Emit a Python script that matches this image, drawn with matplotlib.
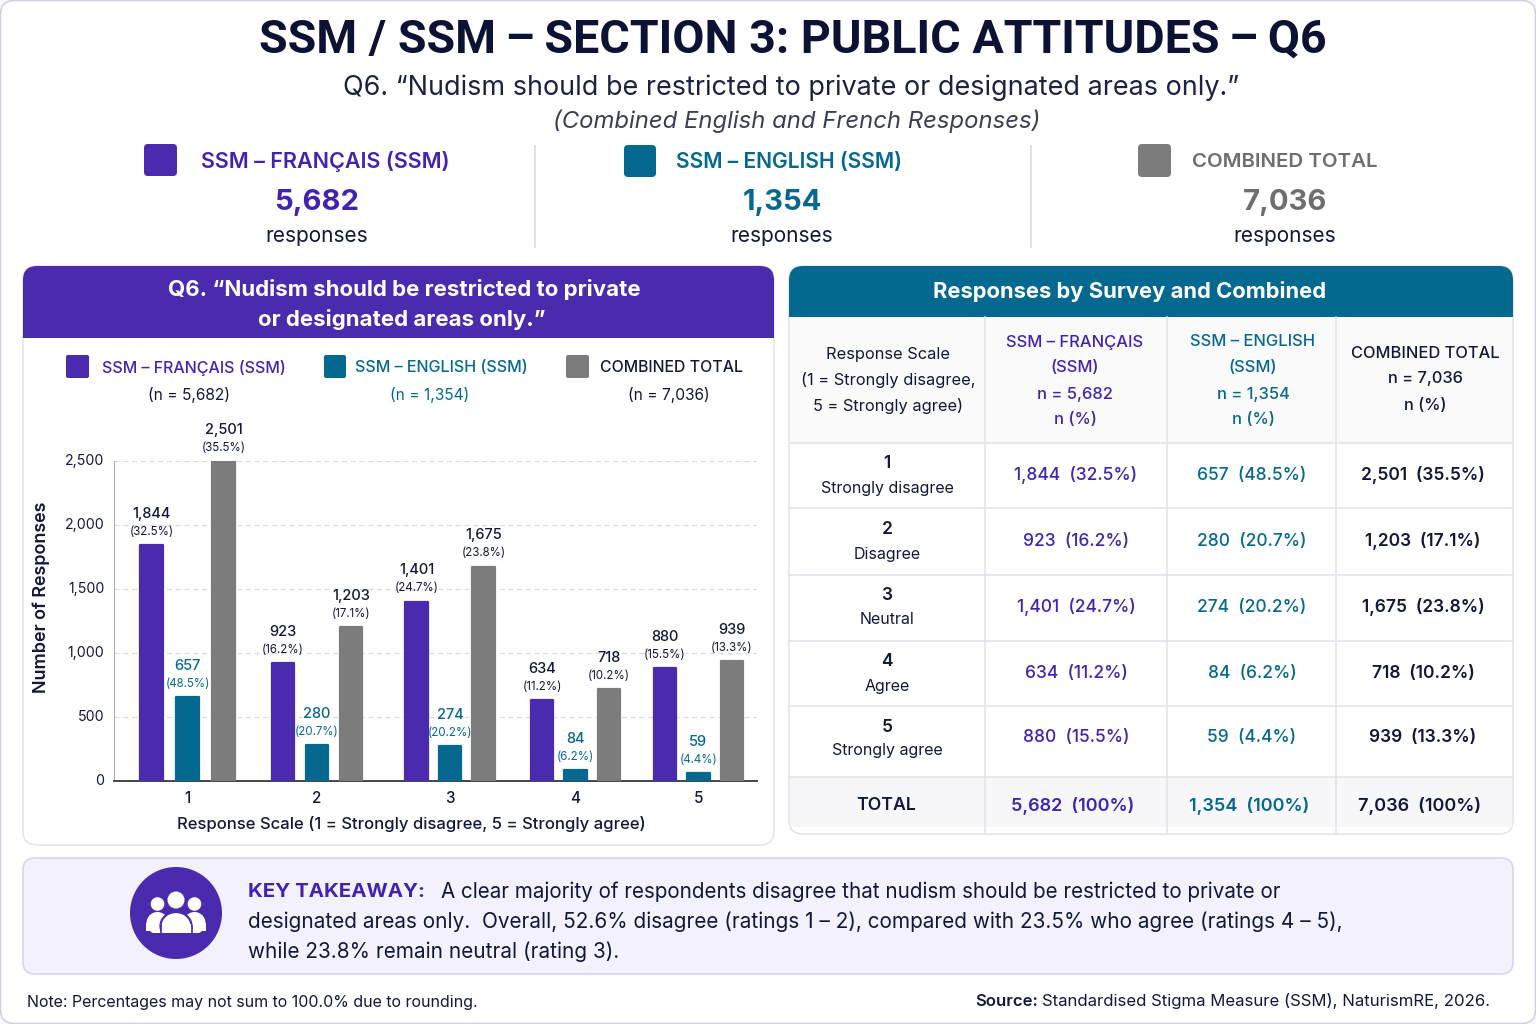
import matplotlib
matplotlib.use("Agg")
import matplotlib.pyplot as plt
from matplotlib.patches import FancyBboxPatch, Rectangle, Circle, Ellipse

# ---------- data ----------
scale_codes = ["1", "2", "3", "4", "5"]
scale_names = ["Strongly disagree", "Disagree", "Neutral", "Agree", "Strongly agree"]
fr_n = [1844, 923, 1401, 634, 880]
fr_pct = [32.5, 16.2, 24.7, 11.2, 15.5]
en_n = [657, 280, 274, 84, 59]
en_pct = [48.5, 20.7, 20.2, 6.2, 4.4]
tot_n = [2501, 1203, 1675, 718, 939]
tot_pct = [35.5, 17.1, 23.8, 10.2, 13.3]
fr_total, en_total, all_total = 5682, 1354, 7036
y_ticks = [0, 500, 1000, 1500, 2000, 2500]

# ---------- style ----------
PURPLE = "#4A2BAE"
PURPLE_T = "#4322B2"
TEAL = "#04688F"
GRAY = "#7C7C7C"
GRAY_T = "#6E6E6E"
DARK = "#11183A"
NAVY = "#0C1234"
LINE = "#E2E3EA"
FONT = "Inter"
plt.rcParams["font.family"] = [FONT, "DejaVu Sans"]

fig = plt.figure(figsize=(15.36, 10.24), dpi=100, facecolor="#F7F8FB")
bg = fig.add_axes([0, 0, 1, 1])
bg.set_xlim(0, 1536)
bg.set_ylim(1024, 0)
bg.axis("off")


def T(x, y, s, size, color=DARK, weight="normal", ha="center", style="normal", **kw):
    return bg.text(x, y + 2, s, fontsize=size, color=color, fontweight=weight, ha=ha,
                   va="center", fontstyle=style, **kw)


def rbox(x0, y0, x1, y1, r, fc, ec="none", lw=1.0, z=1):
    p = FancyBboxPatch((x0 + r, y0 + r), x1 - x0 - 2 * r, y1 - y0 - 2 * r,
                       boxstyle=f"round,pad={r},rounding_size={r}",
                       fc=fc, ec=ec, lw=lw, zorder=z)
    bg.add_patch(p)
    return p


def top_round(x0, y0, x1, y1, r, fc):
    rbox(x0, y0, x1, y0 + 3 * r, r, fc, z=2)
    bg.add_patch(Rectangle((x0, y0 + r), x1 - x0, y1 - y0 - r, fc=fc, ec="none", zorder=2))


# page card
rbox(0.5, 0.5, 1535.5, 1023.5, 14, "white", "#CFD3E2", 1.2, z=0)

# ---------- title ----------
T(793, 38, "SSM / SSM\u2009–\u2009SECTION 3: PUBLIC ATTITUDES\u2009–\u2009Q6", 33.6, NAVY, "bold",
  family=["Roboto", "DejaVu Sans"])
T(791, 86, "Q6. “Nudism should be restricted to private or designated areas only.”", 19.45, "#1C2340")
T(797, 119, "(Combined English and French Responses)", 17.2, "#3A3F55", style="italic")

# ---------- summary strip ----------
rbox(144, 144, 177, 176, 4, PURPLE)
rbox(624, 145, 656, 177, 4, TEAL)
rbox(1138, 144, 1171, 177, 4, GRAY)
T(325, 160, "SSM – FRANÇAIS (SSM)", 15.5, PURPLE_T, "semibold")
T(789, 160, "SSM – ENGLISH (SSM)", 15.1, TEAL, "semibold")
T(1285, 160, "COMBINED TOTAL", 14.7, GRAY_T, "semibold")
T(317, 200, f"{fr_total:,}", 21, PURPLE_T, "bold")
T(782, 200, f"{en_total:,}", 21, TEAL, "bold")
T(1285, 200, f"{all_total:,}", 21, GRAY_T, "bold")
for xc in (317, 782, 1285):
    T(xc, 234, "responses", 15, DARK)
for xv in (535, 1031):
    bg.plot([xv, xv], [146, 247], color="#D5D7E0", lw=1.1)

# ---------- chart card ----------
rbox(23, 266, 774, 845, 14, "white", LINE, 1.1)
top_round(23, 266, 774, 338, 14, PURPLE)
T(404, 288, "Q6. “Nudism should be restricted to private", 16, "white", "bold", zorder=3)
T(402, 318, "or designated areas only.”", 16, "white", "bold", zorder=3)

rbox(66, 355, 89, 378, 2, PURPLE)
rbox(324, 355, 346, 378, 2, TEAL)
rbox(566, 355, 589, 378, 2, GRAY)
T(194, 366, "SSM – FRANÇAIS (SSM)", 11.5, PURPLE_T, "medium")
T(441, 366, "SSM – ENGLISH (SSM)", 11.6, TEAL, "medium")
T(672, 366, "COMBINED TOTAL", 11.4, DARK, "medium")
T(189, 393, f"(n = {fr_total:,})", 11.2, DARK)
T(430, 393, f"(n = {en_total:,})", 11.2, TEAL)
T(669, 393, f"(n = {all_total:,})", 11.2, DARK)

# ---------- bars ----------
ax = fig.add_axes([114 / 1536, (1024 - 781) / 1024, (757 - 114) / 1536, 320 / 1024])
ax.patch.set_alpha(0)
ax.set_xlim(114, 757)
ax.set_ylim(0, 2500)
group_x = [187.5, 317, 450, 575.5, 698.5]
group_gap = [36, 34, 33.5, 33.5, 33.5]
bar_w = 22.5
series = [(fr_n, fr_pct, PURPLE, DARK, -1), (en_n, en_pct, TEAL, TEAL, 0), (tot_n, tot_pct, GRAY, DARK, 1)]
for vals, pcts, col, tcol, side in series:
    xs = [g + side * d for g, d in zip(group_x, group_gap)]
    ax.bar(xs, vals, width=bar_w, color=col, edgecolor=col, linewidth=1.6, joinstyle="round", zorder=3)
    for x, v, p in zip(xs, vals, pcts):
        ax.annotate(f"({p}%)", (x, v), xytext=(0, 9.5), textcoords="offset points", ha="center",
                    va="center", fontsize=8.3, color=tcol, annotation_clip=False)
        ax.annotate(f"{v:,}", (x, v), xytext=(0, 22.5), textcoords="offset points", ha="center",
                    va="center", fontsize=10.5, color=tcol, fontweight="medium", annotation_clip=False)
ax.set_yticks(y_ticks)
ax.set_yticklabels([f"{v:,}" for v in y_ticks], fontsize=10.2, color=DARK, va="center")
ax.set_xticks(group_x)
ax.set_xticklabels(scale_codes, fontsize=11, color=DARK, fontweight="medium")
ax.tick_params(axis="x", length=0, pad=7)
ax.tick_params(axis="y", length=0, pad=7)
ax.grid(axis="y", color="#DADBE2", ls=(0, (4, 3)), lw=0.9, zorder=0)
ax.set_axisbelow(True)
for s in ("top", "right"):
    ax.spines[s].set_visible(False)
ax.spines["left"].set_color("#A9AAB0")
ax.spines["bottom"].set_color("#33363F")
ax.spines["bottom"].set_linewidth(1.3)
T(41, 595, "Number of Responses", 12.9, DARK, "semibold", rotation=90)
T(411, 822, "Response Scale (1 = Strongly disagree, 5 = Strongly agree)", 12, DARK, "medium")

# ---------- table ----------
rbox(789, 266, 1513, 834, 14, "white", LINE, 1.1)
top_round(789, 266, 1513, 317, 14, TEAL)
T(1130, 290, "Responses by Survey and Combined", 15.8, "white", "bold", zorder=3)
bg.add_patch(Rectangle((790, 317), 722, 126, fc="#FAFAFB", ec="none", zorder=1.5))
bg.add_patch(Rectangle((790, 777), 722, 50, fc="#F7F7F9", ec="none", zorder=1.5))
for yv in (443, 508, 575, 641, 706, 777):
    bg.plot([789, 1513], [yv, yv], color=LINE, lw=1.1, zorder=2)
for xv in (985, 1167, 1336):
    bg.plot([xv, xv], [317, 834], color=LINE, lw=1.1, zorder=2)

cols = [1076, 1252, 1424]
T(888, 353, "Response Scale", 11.8)
T(888, 378, "(1 = Strongly disagree,", 11.8)
T(888, 404, "5 = Strongly agree)", 11.8)
for yy, s in zip((340, 365, 392, 418), ("SSM – FRANÇAIS", "(SSM)", f"n = {fr_total:,}", "n (%)")):
    T(cols[0] - 1, yy, s, 11.9, PURPLE_T, "medium")
for yy, s in zip((340, 365, 392, 418), ("SSM – ENGLISH", "(SSM)", f"n = {en_total:,}", "n (%)")):
    T(cols[1] + 1, yy, s, 11.9, TEAL, "medium")
for yy, s in zip((351, 377, 403), ("COMBINED TOTAL", f"n = {all_total:,}", "n (%)")):
    T(cols[2] + 1, yy, s, 11.8, DARK, "medium")

row_y = [473, 539, 605, 671, 736]
for i, ry in enumerate(row_y):
    T(887, ry - 11, scale_codes[i], 12.5, DARK, "semibold")
    T(887, ry + 13, scale_names[i], 11.5, DARK)
    T(cols[0], ry, f"{fr_n[i]:,}  ({fr_pct[i]}%)", 12.5, PURPLE_T, "medium")
    T(cols[1], ry, f"{en_n[i]:,}  ({en_pct[i]}%)", 12.5, TEAL, "medium")
    T(cols[2] - 1, ry, f"{tot_n[i]:,}  ({tot_pct[i]}%)", 12.5, DARK, "semibold")
T(886, 803, "TOTAL", 12.7, DARK, "semibold")
T(1073, 804, f"{fr_total:,}  (100%)", 13, PURPLE_T, "semibold")
T(1249, 804, f"{en_total:,}  (100%)", 13, TEAL, "semibold")
T(1420, 804, f"{all_total:,}  (100%)", 13, DARK, "semibold")

# ---------- key takeaway ----------
rbox(23, 858, 1513, 974, 12, "#F3F1FB", "#D6D1F1", 1.1)
bg.add_patch(Circle((176, 913), 46, fc=PURPLE, ec="none", zorder=2))
for cx in (157.5, 194.5):
    bg.add_patch(Circle((cx, 904), 6.8, fc="white", ec="none", zorder=3))
    bg.add_patch(Ellipse((cx, 923), 22, 22, fc="white", ec="none", zorder=3))
bg.add_patch(Rectangle((146, 923), 60, 8, fc="white", ec="none", zorder=3))
bg.add_patch(Circle((176, 900), 8.5, fc="white", ec="none", zorder=4))
bg.add_patch(Ellipse((176, 926), 31, 28, fc="white", ec=PURPLE, lw=1.6, zorder=4))
bg.add_patch(Rectangle((160.5, 926), 31, 12, fc="white", ec=PURPLE, lw=1.2, zorder=4))
bg.add_patch(Rectangle((161.5, 924), 29, 9, fc="white", ec="none", zorder=5))
bg.add_patch(Rectangle((140, 933), 72, 8, fc=PURPLE, ec="none", zorder=5))

T(248, 890, "KEY TAKEAWAY:", 14.75, PURPLE_T, "bold", ha="left")
T(441, 890, "A clear majority of respondents disagree that nudism should be restricted to private or", 14.85, DARK, ha="left")
T(248, 920, "designated areas only.  Overall, 52.6% disagree (ratings 1 – 2), compared with 23.5% who agree (ratings 4 – 5),", 14.95, DARK, ha="left")
T(248, 950, "while 23.8% remain neutral (rating 3).", 14.95, DARK, ha="left")

# ---------- footer ----------
T(27, 1000, "Note: Percentages may not sum to 100.0% due to rounding.", 11.5, DARK, ha="left")
T(975, 999, "Source:", 12, DARK, "semibold", ha="left")
T(1042, 999, "Standardised Stigma Measure (SSM), NaturismRE, 2026.", 12.05, DARK, ha="left")

fig.savefig("out.png", dpi=100, facecolor=fig.get_facecolor())
